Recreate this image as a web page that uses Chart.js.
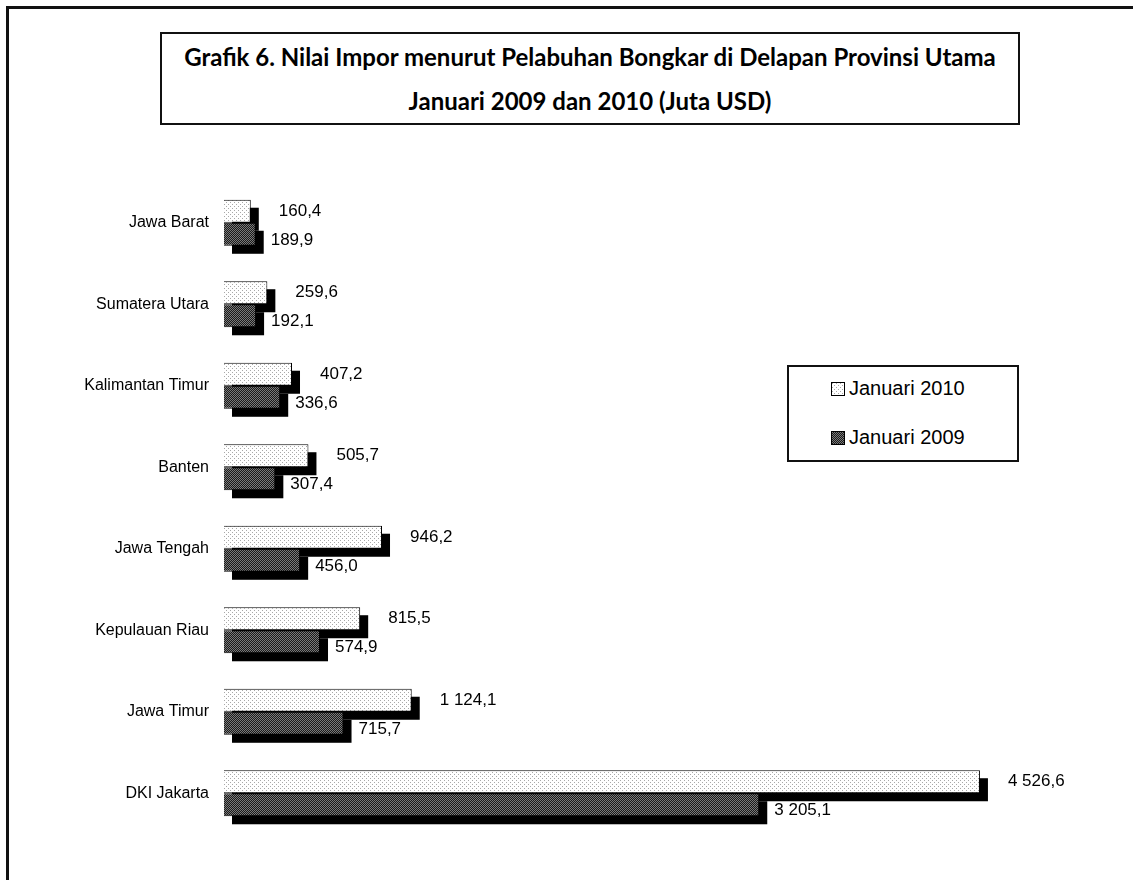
<!DOCTYPE html>
<html>
<head>
<meta charset="utf-8">
<script src="https://cdn.jsdelivr.net/npm/chart.js@4.4.1/dist/chart.umd.min.js"></script>
<style>
    body { margin: 0; background: #fff; overflow: hidden; }
    #frame {
        position: absolute; left: 6px; top: 6px; width: 1200px; height: 1000px;
        border: 3px solid #111; box-sizing: border-box;
    }
    #title {
        position: absolute; left: 160px; top: 32px; width: 860px; height: 93px;
        border: 2px solid #111; box-sizing: border-box;
        font-family: Lato, sans-serif; font-weight: bold; font-size: 24px;
        text-align: center; line-height: 44px; padding-top: 1px; white-space: nowrap;
    }
    #wrap { position: absolute; left: 0; top: 0; width: 1133px; height: 880px; }
    #legend {
        position: absolute; left: 787px; top: 365px; width: 232px; height: 97px;
        border: 2px solid #111; box-sizing: border-box; background: #fff;
        font-family: "Liberation Sans", Arial, sans-serif; font-size: 20px;
    }
    .item { position: absolute; left: 42px; height: 26px; line-height: 26px; }
    .sw {
        display: inline-block; width: 12px; height: 12px; border: 1px solid #000;
        vertical-align: -1px; margin-right: 4px;
    }
</style>
</head>
<body>
<div id="frame"></div>
<div id="title">Grafik 6. Nilai Impor menurut Pelabuhan Bongkar di Delapan Provinsi Utama<br>Januari 2009 dan 2010 (Juta USD)</div>
<div id="wrap"><canvas id="chart" width="1133" height="880"></canvas></div>
<div id="legend">
    <div class="item" style="top:8px"><span class="sw" id="sw2010"></span>Januari 2010</div>
    <div class="item" style="top:57px"><span class="sw" id="sw2009"></span>Januari 2009</div>
</div>
<script>
// data
const provinces = ['Jawa Barat', 'Sumatera Utara', 'Kalimantan Timur', 'Banten',
    'Jawa Tengah', 'Kepulauan Riau', 'Jawa Timur', 'DKI Jakarta'];
const jan2010 = [160.4, 259.6, 407.2, 505.7, 946.2, 815.5, 1124.1, 4526.6];
const jan2009 = [189.9, 192.1, 336.6, 307.4, 456.0, 574.9, 715.7, 3205.1];

// fill patterns
function makePattern(size, draw) {
    const c = document.createElement('canvas');
    c.width = size; c.height = size;
    draw(c.getContext('2d'));
    return c;
}
const lightTile = makePattern(4, g => {
    g.fillStyle = '#fff'; g.fillRect(0, 0, 4, 4);
    g.fillStyle = '#a8a8a8';
    g.fillRect(0, 0, 1, 1); g.fillRect(2, 2, 1, 1);
});
const darkTile = makePattern(2, g => {
    g.fillStyle = '#1a1a1a'; g.fillRect(0, 0, 2, 2);
    g.fillStyle = '#7a7a7a';
    g.fillRect(0, 0, 1, 1); g.fillRect(1, 1, 1, 1);
});
const ctx = document.getElementById('chart').getContext('2d');
const lightFill = ctx.createPattern(lightTile, 'repeat');
const darkFill = ctx.createPattern(darkTile, 'repeat');
document.getElementById('sw2010').style.background = 'url(' + lightTile.toDataURL() + ')';
document.getElementById('sw2009').style.background = 'url(' + darkTile.toDataURL() + ')';

function fmt(v) {
    const parts = v.toFixed(1).split('.');
    return parts[0].replace(/\B(?=(\d{3})+(?!\d))/g, ' ') + ',' + parts[1];
}

// black drop shadow behind every bar
const shadowPlugin = {
    id: 'shadows',
    beforeDatasetsDraw(chart) {
        const c = chart.ctx;
        c.save();
        c.fillStyle = '#000';
        chart.data.datasets.forEach((ds, i) => {
            chart.getDatasetMeta(i).data.forEach(bar => {
                const p = bar.getProps(['x', 'y', 'base', 'height'], true);
                c.fillRect(p.base + 8, p.y - p.height / 2 + 8, p.x - p.base, p.height);
            });
        });
        c.restore();
    }
};

// value labels
const labelPlugin = {
    id: 'valueLabels',
    afterDatasetsDraw(chart) {
        const c = chart.ctx;
        c.save();
        c.font = '17px "Liberation Sans", Arial, sans-serif';
        c.fillStyle = '#000';
        c.textBaseline = 'middle';
        chart.data.datasets.forEach((ds, i) => {
            chart.getDatasetMeta(i).data.forEach((bar, j) => {
                const p = bar.getProps(['x', 'y'], true);
                if (i === 0) c.fillText(fmt(ds.data[j]), p.x + 28, p.y);
                else c.fillText(fmt(ds.data[j]), p.x + 15, p.y + 6);
            });
        });
        c.restore();
    }
};

new Chart(ctx, {
    type: 'bar',
    data: {
        labels: provinces,
        datasets: [{
            label: 'Januari 2010',
            data: jan2010,
            backgroundColor: lightFill,
            borderColor: '#000',
            borderWidth: 1
        }, {
            label: 'Januari 2009',
            data: jan2009,
            backgroundColor: darkFill,
            borderColor: '#000',
            borderWidth: 1
        }]
    },
    options: {
        indexAxis: 'y',
        responsive: false,
        animation: false,
        categoryPercentage: 0.565,
        barPercentage: 1,
        layout: { padding: { top: 182, bottom: 46, left: 0, right: 74 } },
        plugins: {
            legend: { display: false },
            tooltip: { enabled: false }
        },
        scales: {
            x: { display: false, min: 0, max: 5000 },
            y: {
                grid: { display: false, drawTicks: false },
                border: { display: false },
                ticks: {
                    padding: 15,
                    color: '#000',
                    font: { family: '"Liberation Sans", Arial, sans-serif', size: 16 }
                },
                afterFit(scale) { scale.width = 224; }
            }
        }
    },
    plugins: [shadowPlugin, labelPlugin]
});
</script>
</body>
</html>
